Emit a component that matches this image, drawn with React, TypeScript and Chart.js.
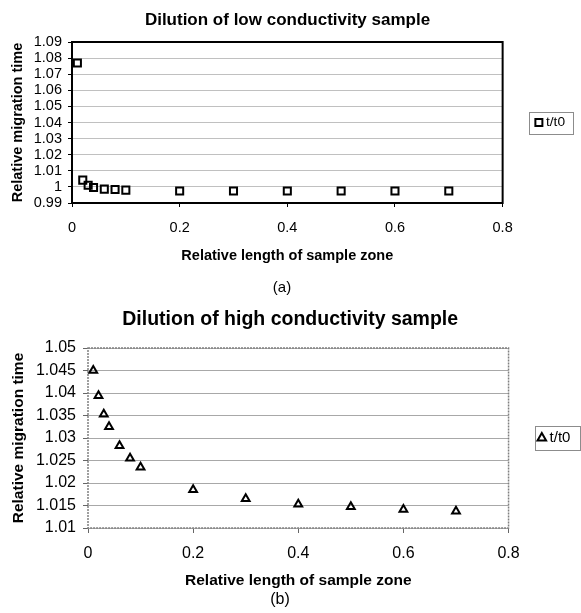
import React, { useEffect, useRef } from 'react';
import { Chart, registerables } from 'chart.js';

Chart.register(...registerables);

const FONT = '"Liberation Sans", Arial, Helvetica, sans-serif';

// ---- data ----
const titleA = 'Dilution of low conductivity sample';
const titleB = 'Dilution of high conductivity sample';
const seriesLabel = 't/t0';
const xAxisTitle = 'Relative length of sample zone';
const yAxisTitle = 'Relative migration time';
const captionA = '(a)';
const captionB = '(b)';

const zoneLengthsA = [0.01, 0.02, 0.03, 0.04, 0.06, 0.08, 0.1, 0.2, 0.3, 0.4, 0.5, 0.6, 0.7];
const migrationA = [1.077, 1.0042, 1.001, 0.9996, 0.9986, 0.9984, 0.998, 0.9975, 0.9975, 0.9975, 0.9975, 0.9975, 0.9975];

const zoneLengthsB = [0.01, 0.02, 0.03, 0.04, 0.06, 0.08, 0.1, 0.2, 0.3, 0.4, 0.5, 0.6, 0.7];
const migrationB = [1.045, 1.0394, 1.0353, 1.0325, 1.0283, 1.0255, 1.0235, 1.0185, 1.0165, 1.0153, 1.0147, 1.0141, 1.0137];

const xTickValues = [0, 0.2, 0.4, 0.6, 0.8];
const xTickLabels = ['0', '0.2', '0.4', '0.6', '0.8'];
const yTickValuesA = [0.99, 1, 1.01, 1.02, 1.03, 1.04, 1.05, 1.06, 1.07, 1.08, 1.09];
const yTickLabelsA = ['0.99', '1', '1.01', '1.02', '1.03', '1.04', '1.05', '1.06', '1.07', '1.08', '1.09'];
const yTickValuesB = [1.01, 1.015, 1.02, 1.025, 1.03, 1.035, 1.04, 1.045, 1.05];
const yTickLabelsB = ['1.01', '1.015', '1.02', '1.025', '1.03', '1.035', '1.04', '1.045', '1.05'];

// ---- plugins ----
const framePlugin = {
  id: 'frame',
  beforeDatasetsDraw(chart: any, _args: any, o: any) {
    const { ctx, chartArea: a } = chart;
    ctx.save();
    ctx.strokeStyle = o.color;
    ctx.lineWidth = o.width;
    ctx.setLineDash(o.dash || []);
    ctx.strokeRect(a.left, a.top, a.right - a.left, a.bottom - a.top);
    ctx.restore();
  },
};

const legendFramePlugin = {
  id: 'legendFrame',
  afterDraw(chart: any, _args: any, o: any) {
    const hb = chart.legend && chart.legend.legendHitBoxes && chart.legend.legendHitBoxes[0];
    if (!hb) return;
    const ctx = chart.ctx;
    const cy = hb.top + hb.height / 2;
    const l = Math.round(hb.left - o.padL) + 0.5;
    const r = Math.round(hb.left + hb.width + o.padR) + 0.5;
    const t = Math.round(cy - o.halfH) + 0.5;
    const b = Math.round(cy + o.halfH) + 0.5;
    ctx.save();
    ctx.strokeStyle = o.color;
    ctx.lineWidth = 1;
    ctx.strokeRect(l, t, r - l, b - t);
    ctx.restore();
  },
};

type Spec = {
  title: string;
  titleSize: number;
  titlePad: { top: number; bottom: number };
  xs: number[];
  ys: number[];
  yMin: number;
  yMax: number;
  yTicks: number[];
  yLabels: string[];
  pointStyle: string;
  pointRadius: number;
  pointBorder: number;
  legendBoxH: number;
  legendFont: number;
  legendPad: number;
  padRight: number;
  yWidth: number;
  xHeight: number;
  tickFont: number;
  axisTitleFont: number;
  tickLen: number;
  yTickPad: number;
  xTickPad: number;
  yTitlePadTop: number;
  xTitlePadBottom: number;
  gridColor: string;
  tickColor: string;
  frame: { color: string; width: number; dash: number[] };
  legendFrame: { padL: number; padR: number; halfH: number; color: string };
};

function makeConfig(s: Spec): any {
  return {
    type: 'scatter',
    data: {
      datasets: [
        {
          label: seriesLabel,
          data: s.xs.map((x, i) => ({ x, y: s.ys[i] })),
          pointStyle: s.pointStyle,
          pointRadius: s.pointRadius,
          pointHoverRadius: s.pointRadius,
          borderColor: '#000',
          backgroundColor: 'rgba(0,0,0,0)',
          pointBorderWidth: s.pointBorder,
          borderWidth: s.pointBorder,
          showLine: false,
          clip: false,
        },
      ],
    },
    options: {
      responsive: false,
      animation: false,
      devicePixelRatio: 1,
      layout: { padding: { left: 0, right: s.padRight, top: 0, bottom: 0 } },
      plugins: {
        title: {
          display: true,
          text: s.title,
          color: '#000',
          font: { family: FONT, size: s.titleSize, weight: 'bold' },
          padding: s.titlePad,
        },
        legend: {
          display: true,
          position: 'right',
          fullSize: false,
          align: 'center',
          labels: {
            usePointStyle: true,
            boxWidth: 0.5,
            boxHeight: s.legendBoxH,
            padding: s.legendPad,
            color: '#000',
            font: { family: FONT, size: s.legendFont },
          },
        },
        tooltip: { enabled: false },
        frame: s.frame,
        legendFrame: s.legendFrame,
      },
      scales: {
        x: {
          type: 'linear',
          min: 0,
          max: 0.8,
          afterBuildTicks: (sc: any) => {
            sc.ticks = xTickValues.map((v) => ({ value: v }));
          },
          afterFit: (sc: any) => {
            sc.height = s.xHeight;
          },
          ticks: {
            autoSkip: false,
            maxRotation: 0,
            callback: (_v: any, i: number) => xTickLabels[i],
            color: '#000',
            padding: s.xTickPad,
            font: { family: FONT, size: s.tickFont },
          },
          grid: {
            display: true,
            drawOnChartArea: false,
            drawTicks: true,
            tickLength: s.tickLen,
            tickColor: s.tickColor,
          },
          border: { display: false },
          title: {
            display: true,
            text: xAxisTitle,
            color: '#000',
            font: { family: FONT, size: s.axisTitleFont, weight: 'bold' },
            padding: { top: 0, bottom: s.xTitlePadBottom },
          },
        },
        y: {
          type: 'linear',
          min: s.yMin,
          max: s.yMax,
          afterBuildTicks: (sc: any) => {
            sc.ticks = s.yTicks.map((v) => ({ value: v }));
          },
          afterFit: (sc: any) => {
            sc.width = s.yWidth;
          },
          ticks: {
            autoSkip: false,
            callback: (_v: any, i: number) => s.yLabels[i],
            color: '#000',
            padding: s.yTickPad,
            font: { family: FONT, size: s.tickFont },
          },
          grid: {
            display: true,
            color: s.gridColor,
            lineWidth: 1,
            drawTicks: true,
            tickLength: s.tickLen,
            tickColor: s.tickColor,
          },
          border: { display: false },
          title: {
            display: true,
            text: yAxisTitle,
            color: '#000',
            font: { family: FONT, size: s.axisTitleFont, weight: 'bold' },
            padding: { top: s.yTitlePadTop, bottom: 0 },
          },
        },
      },
    },
    plugins: [framePlugin, legendFramePlugin],
  };
}

const specA: Spec = {
  title: titleA,
  titleSize: 17,
  titlePad: { top: 9.8, bottom: 11.8 },
  xs: zoneLengthsA,
  ys: migrationA,
  yMin: 0.99,
  yMax: 1.09,
  yTicks: yTickValuesA,
  yLabels: yTickLabelsA,
  pointStyle: 'rect',
  pointRadius: 5,
  pointBorder: 2,
  legendBoxH: 7,
  legendFont: 13.7,
  legendPad: 36,
  padRight: 6,
  yWidth: 72,
  xHeight: 97,
  tickFont: 14.5,
  axisTitleFont: 14.5,
  tickLen: 4,
  yTickPad: 6,
  xTickPad: 12.3,
  yTitlePadTop: 9.3,
  xTitlePadBottom: 35.3,
  gridColor: '#c0c0c0',
  tickColor: '#000',
  frame: { color: '#000', width: 2, dash: [] },
  legendFrame: { padL: 10, padR: 8, halfH: 11, color: '#8c8c8c' },
};

const specB: Spec = {
  title: titleB,
  titleSize: 19.5,
  titlePad: { top: 8.3, bottom: 16.3 },
  xs: zoneLengthsB,
  ys: migrationB,
  yMin: 1.01,
  yMax: 1.05,
  yTicks: yTickValuesB,
  yLabels: yTickLabelsB,
  pointStyle: 'triangle',
  pointRadius: 4.5,
  pointBorder: 2,
  legendBoxH: 7,
  legendFont: 15,
  legendPad: 33,
  padRight: 0.6,
  yWidth: 88,
  xHeight: 85,
  tickFont: 16,
  axisTitleFont: 15.5,
  tickLen: 5,
  yTickPad: 7,
  xTickPad: 11.4,
  yTitlePadTop: 9.2,
  xTitlePadBottom: 22.7,
  gridColor: '#a8a8a8',
  tickColor: '#666',
  frame: { color: '#808080', width: 1.5, dash: [2, 1] },
  legendFrame: { padL: 7, padR: 10, halfH: 12, color: '#8c8c8c' },
};

function ChartCanvas({ spec, width, height }: { spec: Spec; width: number; height: number }) {
  const ref = useRef<HTMLCanvasElement | null>(null);
  useEffect(() => {
    if (!ref.current) return;
    const chart = new Chart(ref.current, makeConfig(spec));
    return () => chart.destroy();
  }, [spec]);
  return <canvas ref={ref} width={width} height={height} style={{ display: 'block', width, height }} />;
}

export default function App() {
  return (
    <div style={{ position: 'absolute', left: 0, top: 0, width: 581, height: 613, background: '#fff', overflow: 'hidden' }}>
      <div style={{ position: 'absolute', left: 0, top: 0, width: 581, height: 300 }}>
        <ChartCanvas spec={specA} width={581} height={300} />
      </div>
      <div style={{ position: 'absolute', left: 0, top: 300, width: 581, height: 313 }}>
        <ChartCanvas spec={specB} width={581} height={313} />
      </div>
      <div
        style={{
          position: 'absolute',
          left: 0,
          width: 564,
          top: 278,
          height: 18,
          lineHeight: '18px',
          textAlign: 'center',
          fontFamily: FONT,
          fontSize: 15,
          color: '#000',
        }}
      >
        {captionA}
      </div>
      <div
        style={{
          position: 'absolute',
          left: 0,
          width: 560,
          top: 590,
          height: 18,
          lineHeight: '18px',
          textAlign: 'center',
          fontFamily: FONT,
          fontSize: 16,
          color: '#000',
        }}
      >
        {captionB}
      </div>
    </div>
  );
}
